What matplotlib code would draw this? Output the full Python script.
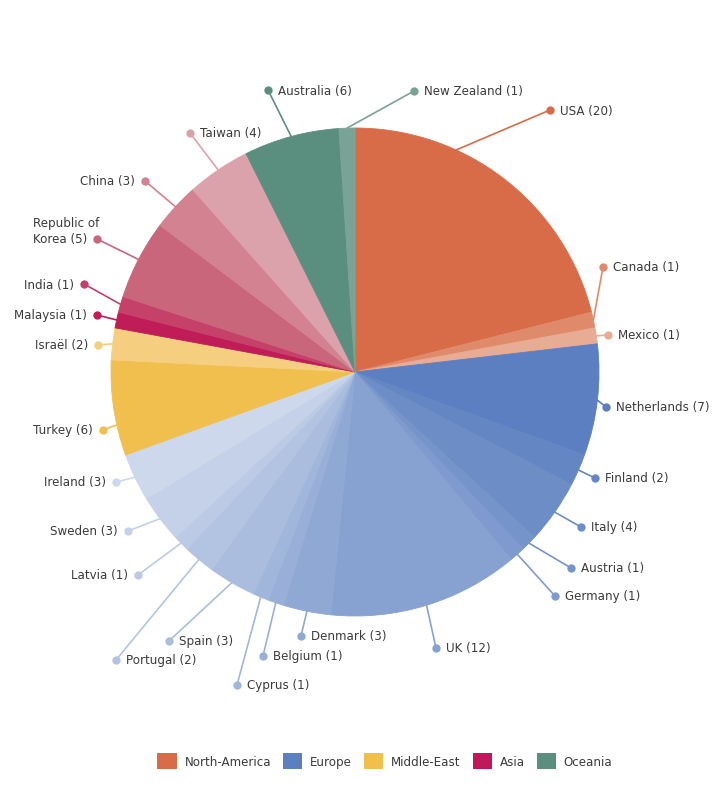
import matplotlib
matplotlib.use("Agg")
import matplotlib.pyplot as plt
from matplotlib.patches import Patch
import matplotlib.colors as mcolors
import numpy as np

# ---------------- data ----------------
countries = ['USA', 'Canada', 'Mexico',
             'Netherlands', 'Finland', 'Italy', 'Austria', 'Germany', 'UK',
             'Denmark', 'Belgium', 'Cyprus', 'Spain', 'Portugal', 'Latvia',
             'Sweden', 'Ireland',
             'Turkey', 'Israël',
             'Malaysia', 'India', 'Republic of\nKorea', 'China', 'Taiwan',
             'Australia', 'New Zealand']
counts = [20, 1, 1,
          7, 2, 4, 1, 1, 12, 3, 1, 1, 3, 2, 1, 3, 3,
          6, 2,
          1, 1, 5, 3, 4,
          6, 1]
regions = (['North-America'] * 3 + ['Europe'] * 14 + ['Middle-East'] * 2
           + ['Asia'] * 5 + ['Oceania'] * 2)
region_names = ['North-America', 'Europe', 'Middle-East', 'Asia', 'Oceania']

# ---------------- style / layout ----------------
region_colors = {'North-America': '#d96c48', 'Europe': '#5b7fc0',
                 'Middle-East': '#f0bf4e', 'Asia': '#c0185a',
                 'Oceania': '#5a8f7f'}
shade_colors = {
    'North-America': ['#d96c48', '#e08a6c', '#e8ab93'],
    'Middle-East': ['#f0bf4e', '#f5cf7f'],
    'Asia': ['#c01d58', '#c5416a', '#c9667c', '#d28290', '#dca2ac'],
    'Oceania': ['#5a8f7f', '#7aa398'],
}
W, H = 720, 803
CX, CY, R = 355, 373, 244          # pie centre / radius (image px)
# label dot positions in image pixels (annotation layout)
label_pos = [(550, 111), (603, 268), (608, 336),
             (606, 408), (595, 479), (581, 528), (571, 569), (555, 597),
             (436, 649), (301, 637), (263, 657), (237, 686), (169, 642),
             (116, 661), (138, 576), (128, 532), (116, 483),
             (103, 431), (98, 346),
             (97, 316), (84, 285), (97, 240), (145, 182), (190, 134),
             (268, 91), (414, 92)]
tick_shift = {'USA': -13.4, 'Turkey': -4.0}   # clockwise degrees
text_color = '#3b3b3b'
FS = 8.6


def slice_colors():
    cols = []
    for reg in region_names:
        n = regions.count(reg)
        if reg in shade_colors:
            cols.extend(mcolors.to_rgb(c) for c in shade_colors[reg])
            continue
        base = np.array(mcolors.to_rgb(region_colors[reg]))
        for k in range(n):
            t = 0.75 * k / n
            cols.append(tuple(base + (1 - base) * t))
    return cols


colors = slice_colors()

fig = plt.figure(figsize=(W / 100, H / 100), dpi=100)
ax = fig.add_axes([0, 0, 1, 1])


def Y(y):
    return H - y


wedges, _ = ax.pie(counts, colors=colors, startangle=90, counterclock=False,
                   center=(CX, Y(CY)), radius=R, frame=True,
                   wedgeprops=dict(linewidth=0.6))
for w, c in zip(wedges, colors):
    w.set_edgecolor(c)
ax.set_xlim(0, W)
ax.set_ylim(0, H)
ax.set_aspect('equal')
ax.axis('off')

renderer = fig.canvas.get_renderer()

for w, name, cnt, c, (lx, ly) in zip(wedges, countries, counts, colors, label_pos):
    mid = 0.5 * (w.theta1 + w.theta2)          # standard (ccw) degrees
    mid_use = mid - tick_shift.get(name, 0.0)
    a = np.deg2rad(mid_use)
    sx, sy = CX + R * np.cos(a), Y(CY) + R * np.sin(a)
    ax.plot([sx, lx], [sy, Y(ly)], color=c, lw=1.2, solid_capstyle='round', zorder=3)
    ax.plot([lx], [Y(ly)], 'o', color=c, ms=6, mec='none', zorder=4)
    clock = (90 - mid) % 360
    left = 222 < clock < 320
    lines = f"{name} ({cnt})".split('\n')
    if len(lines) == 1:
        ax.text(lx + (-10 if left else 10), Y(ly), lines[0],
                ha='right' if left else 'left', va='center',
                fontsize=FS, color=text_color)
    else:
        last = ax.text(lx - 10, Y(ly), lines[-1], ha='right', va='center',
                       fontsize=FS, color=text_color)
        bb = last.get_window_extent(renderer).transformed(ax.transData.inverted())
        for j, ln in enumerate(reversed(lines[:-1])):
            ax.text(bb.x0, Y(ly) + 16 * (j + 1), ln, ha='left', va='center',
                    fontsize=FS, color=text_color)

handles = [Patch(facecolor=region_colors[r], edgecolor='none', label=r) for r in region_names]
fig.legend(handles=handles, loc='center', bbox_to_anchor=(385 / W, 1 - 762 / H), ncol=5,
           frameon=False, fontsize=FS, handlelength=1.6, handleheight=1.6,
           handletextpad=0.67, columnspacing=1.0, labelcolor=text_color)

fig.savefig('out.png', dpi=100, facecolor='white')
